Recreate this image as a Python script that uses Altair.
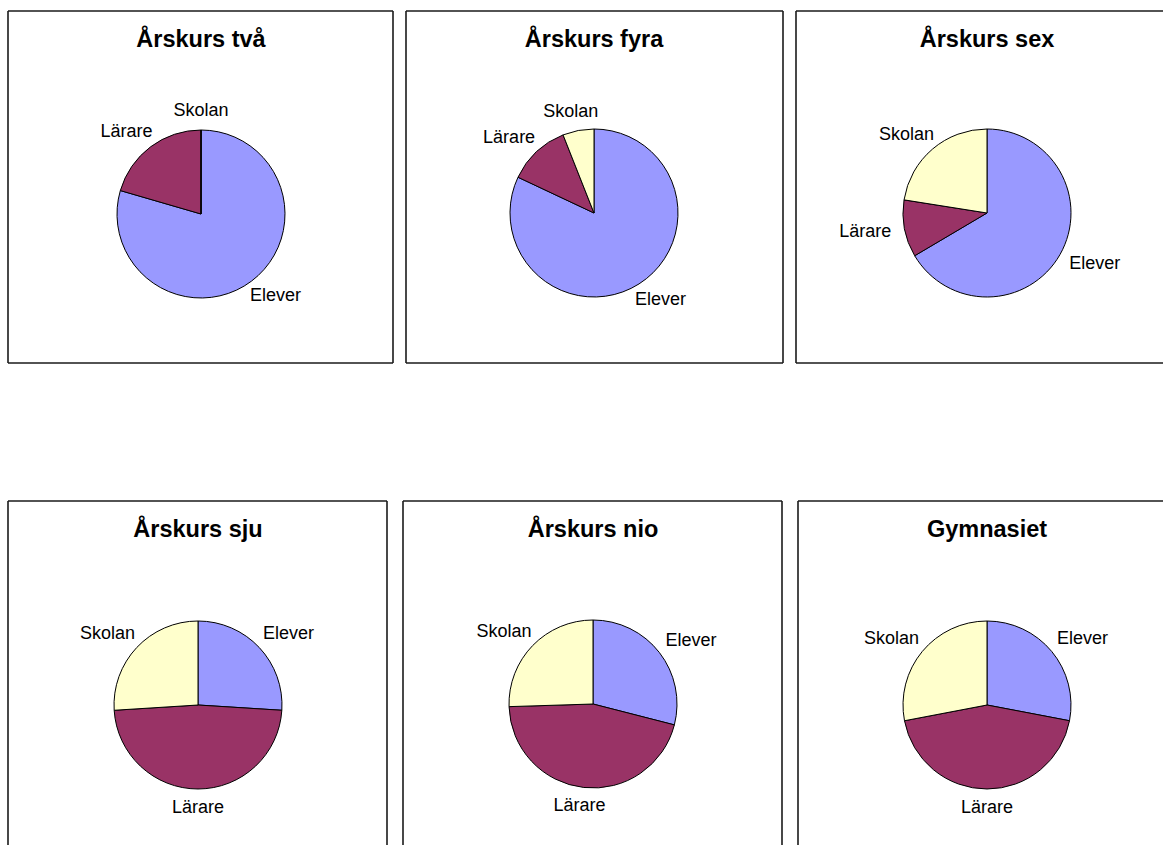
import altair as alt
import pandas as pd

# ---- data ----
panels = ["Årskurs två", "Årskurs fyra", "Årskurs sex",
          "Årskurs sju", "Årskurs nio", "Gymnasiet"]
categories = ["Elever", "Lärare", "Skolan"]
elever = [79.5, 82.0, 66.5, 26.0, 29.0, 28.0]
larare = [20.5, 12.0, 11.0, 48.0, 45.5, 44.0]
skolan = [0.0, 6.0, 22.5, 26.0, 25.5, 28.0]
colors = ["#9999FF", "#993366", "#FFFFCC"]

rows = []
for p, e, l, s in zip(panels, elever, larare, skolan):
    for i, (c, v) in enumerate(zip(categories, [e, l, s])):
        rows.append({"panel": p, "cat": c, "value": v, "order": i})
df = pd.DataFrame(rows)

# ---- layout (panel boxes) ----
R = 84
FONT = "Liberation Sans"
BORDER = "#1a1a1a"
widths = [385, 377, 367, 379, 379, 365]
heights = [352, 352, 352, 344, 344, 344]
cxs = [193, 188, 191, 190, 190, 189]
cys = [203, 202, 202, 204, 203, 204]
# sides: left, top, right, bottom
sides = [(1, 1, 1, 1), (1, 1, 1, 1), (1, 1, 0, 1),
         (1, 1, 1, 0), (1, 1, 1, 0), (1, 1, 0, 0)]
LAB_A = R + 14 + 26   # horizontal reach of label centres
LAB_B = R + 14 + 5    # vertical reach of label centres

one = pd.DataFrame({"k": [0]})


def panel(i):
    w, h, cx, cy = widths[i], heights[i], cxs[i], cys[i]
    base = (
        alt.Chart(df)
        .transform_filter(alt.FieldEqualPredicate(field="panel", equal=panels[i]))
        .transform_joinaggregate(total="sum(value)")
        .transform_window(cum="sum(value)", sort=[alt.SortField("order")], frame=[None, 0])
        .transform_calculate(
            t1="datum.cum / datum.total * 2 * PI",
            t0="(datum.cum - datum.value) / datum.total * 2 * PI",
        )
        .transform_calculate(mid="(datum.t0 + datum.t1) / 2")
        .transform_calculate(
            lx=f"{LAB_A} * sin(datum.mid)",
            ly=f"{LAB_B} * cos(datum.mid)",
        )
        .transform_calculate(
            la="atan2(datum.lx, datum.ly)",
            lr="sqrt(datum.lx * datum.lx + datum.ly * datum.ly)",
        )
    )
    arcs = base.mark_arc(stroke="black", strokeWidth=1, outerRadius=R).encode(
        theta=alt.Theta("t0:Q", scale=None),
        theta2=alt.Theta2("t1:Q"),
        color=alt.Color("cat:N", scale=alt.Scale(domain=categories, range=colors), legend=None),
        order=alt.Order("order:Q"),
        x=alt.value(cx),
        y=alt.value(cy),
    )
    labels = base.mark_text(
        fontSize=18, font=FONT, baseline="middle", align="center", color="black"
    ).encode(
        theta=alt.Theta("la:Q", scale=None, stack=False),
        radius=alt.Radius("lr:Q", scale=None),
        text=alt.Text("cat:N"),
        x=alt.value(cx),
        y=alt.value(cy),
    )
    title = alt.Chart(pd.DataFrame({"t": [panels[i]]})).mark_text(
        fontSize=23.5, fontWeight="bold", font=FONT, baseline="alphabetic",
        align="center", color="black"
    ).encode(text="t:N", x=alt.value(cx), y=alt.value(36))

    layers = [arcs, labels, title]
    l, t, r, b = sides[i]
    rule = alt.Chart(one).mark_rule(color=BORDER, strokeWidth=1.6)
    if l:
        layers.append(rule.encode(x=alt.value(0), y=alt.value(0), y2=alt.value(h)))
    if t:
        layers.append(rule.encode(x=alt.value(0), x2=alt.value(w), y=alt.value(0)))
    if r:
        layers.append(rule.encode(x=alt.value(w), y=alt.value(0), y2=alt.value(h)))
    if b:
        layers.append(rule.encode(x=alt.value(0), x2=alt.value(w), y=alt.value(h)))
    return alt.layer(*layers).properties(width=w, height=h)


top = alt.hconcat(panel(0), panel(1), panel(2), spacing=11)
bottom = alt.hconcat(panel(3), panel(4), panel(5), spacing=14)
chart = (
    alt.vconcat(top, bottom, spacing=136)
    .properties(padding={"left": 7, "top": 10, "right": 0, "bottom": 0}, background="white")
    .configure_view(strokeWidth=0)
)

chart.save("out.html", embed_options={"renderer": "svg", "actions": False})
